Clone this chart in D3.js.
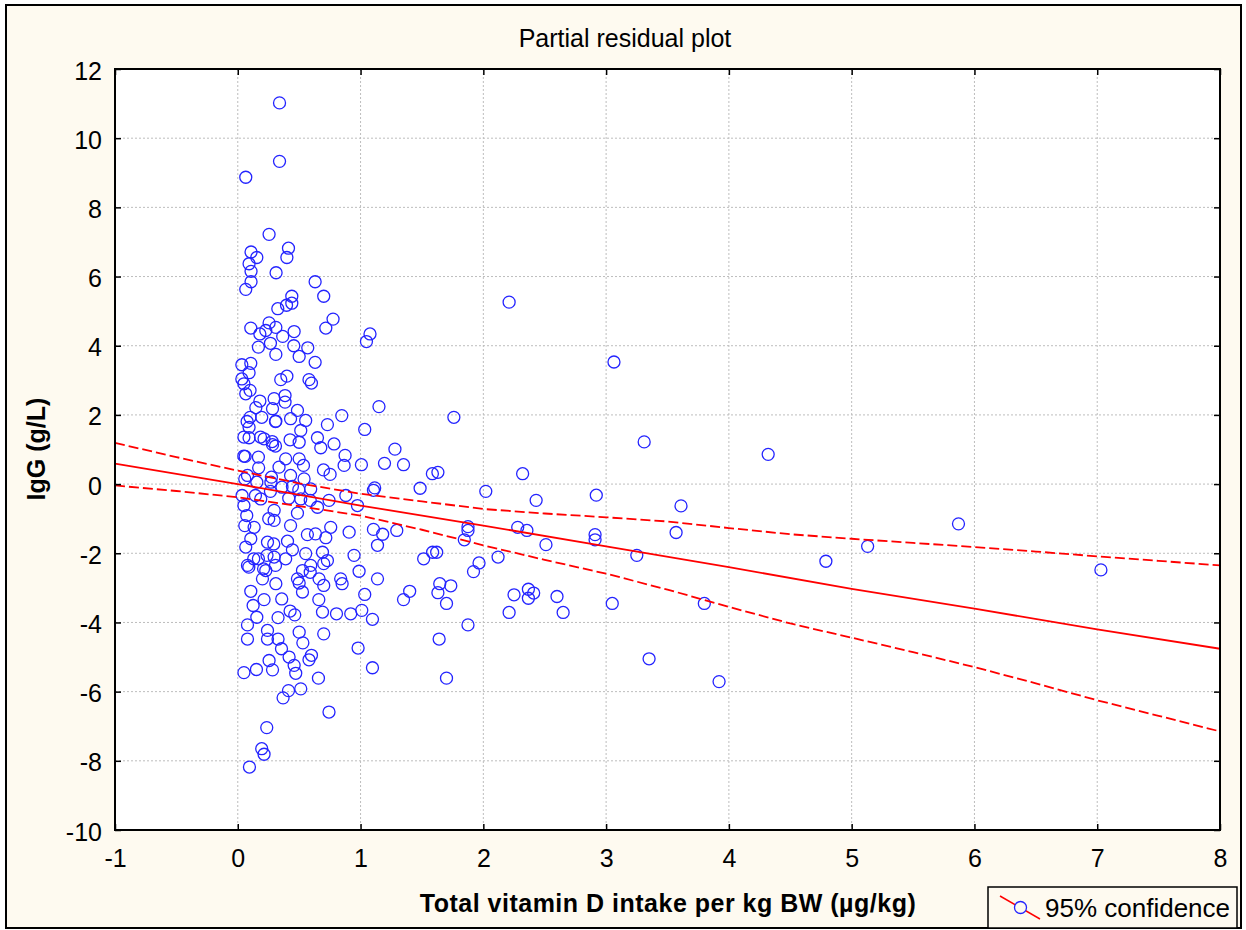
<!DOCTYPE html>
<html>
<head>
<meta charset="utf-8">
<script src="https://cdnjs.cloudflare.com/ajax/libs/d3/7.8.5/d3.min.js"></script>
<style>
  body { margin: 0; background: #ffffff; }
  text { font-family: Arial, "Liberation Sans", sans-serif; }
</style>
</head>
<body>
<script>
// Axis ticks
const xTicks = [-1, 0, 1, 2, 3, 4, 5, 6, 7, 8];
const yTicks = [-10, -8, -6, -4, -2, 0, 2, 4, 6, 8, 10, 12];

// Fitted line and 95% confidence band
const fitX = [-1, 0, 1, 2, 3, 4, 5, 6, 7, 8];
const fitY = [0.59, 0.0, -0.62, -1.2, -1.8, -2.4, -3.03, -3.6, -4.2, -4.76];

const bandX = [-1, -0.5, 0, 0.5, 1, 1.5, 2, 2.5, 3, 3.5, 4, 4.5, 5, 5.5, 6, 6.5, 7, 7.5, 8];
const upperY = [1.19, 0.78, 0.39, 0.02, -0.28, -0.5, -0.72, -0.85, -0.96, -1.08, -1.27, -1.45, -1.58, -1.7, -1.82, -1.95, -2.09, -2.22, -2.35];
const lowerY = [-0.04, -0.2, -0.38, -0.64, -0.91, -1.32, -1.77, -2.19, -2.59, -3.05, -3.55, -4.03, -4.44, -4.86, -5.29, -5.76, -6.25, -6.7, -7.15];

// Partial residuals [vitamin D per kg BW, IgG]
const residuals = [
  [0.34,11.02],[0.34,9.33],[0.065,8.87],[0.255,7.22],[0.108,6.71],[0.155,6.55],[0.092,6.37],[0.108,6.15],
  [0.413,6.82],[0.40,6.55],[0.312,6.11],[0.108,5.85],[0.065,5.63],[0.63,5.85],[0.70,5.43],[0.44,5.43],
  [0.44,5.23],[0.397,5.17],[0.326,5.07],[0.776,4.77],[0.717,4.51],[0.106,4.51],[0.255,4.66],[0.31,4.53],
  [0.459,4.41],[0.18,4.34],[0.228,4.44],[0.366,4.27],[1.077,4.34],[1.048,4.12],[0.266,4.07],[0.456,4.0],
  [0.168,3.96],[0.31,3.75],[0.50,3.69],[0.57,3.94],[0.63,3.52],[0.033,3.45],[0.106,3.49],[0.092,3.22],
  [0.033,3.04],[0.05,2.90],[0.40,3.12],[0.35,3.02],[0.58,3.02],[0.60,2.92],[0.065,2.61],[0.10,2.71],
  [0.18,2.40],[0.296,2.47],[0.385,2.56],[0.385,2.37],[0.147,2.21],[0.283,2.18],[0.486,2.13],[1.15,2.24],
  [0.10,1.93],[0.195,1.93],[0.31,1.82],[0.43,1.89],[0.553,1.84],[0.847,1.98],[0.73,1.72],[1.034,1.58],
  [0.092,1.64],[0.513,1.55],[0.092,1.34],[0.214,1.31],[0.426,1.28],[0.649,1.34],[0.50,1.21],[0.283,1.14],
  [0.784,1.16],[0.676,1.05],[0.06,0.80],[0.168,0.78],[0.39,0.73],[0.50,0.73],[0.874,0.83],[0.17,0.47],
  [0.336,0.49],[0.535,0.54],[0.698,0.41],[0.866,0.54],[1.007,0.56],[0.752,0.28],[0.43,0.25],[0.54,0.15],
  [0.27,0.055],[0.155,0.055],[1.115,-0.11],[0.445,-0.07],[0.594,-0.14],[0.88,-0.33],[0.743,-0.47],[0.975,-0.62],
  [0.513,-0.43],[0.187,-0.43],[0.05,-0.62],[0.649,-0.67],[0.296,-0.76],[0.073,-0.91],[0.486,-0.84],[0.757,-1.25],
  [0.907,-1.39],[1.105,-1.31],[0.296,-1.05],[0.43,-1.20],[0.133,-1.25],[0.717,-1.55],[0.567,-1.46],[0.106,-1.58],
  [0.242,-1.68],[0.405,-1.65],[1.138,-1.77],[0.065,-1.82],[0.445,-1.90],[0.69,-1.97],[0.553,-2.01],[0.168,-2.16],
  [0.296,-2.11],[0.39,-2.16],[0.73,-2.21],[0.947,-2.06],[0.079,-2.35],[0.594,-2.35],[0.228,-2.50],[0.527,-2.50],
  [0.988,-2.52],[0.662,-2.74],[0.201,-2.74],[0.838,-2.74],[1.138,-2.74],[0.486,-2.74],[0.31,-2.88],
  [0.106,-3.10],[0.50,-2.86],[0.70,-2.93],[0.85,-2.88],[1.034,-3.19],[0.214,-3.34],[0.358,-3.32],[0.527,-3.12],
  [0.66,-3.34],[0.125,-3.51],[0.155,-3.85],[0.426,-3.67],[0.464,-3.78],[0.69,-3.70],[0.804,-3.75],[0.92,-3.75],
  [1.01,-3.65],[1.097,-3.91],[0.079,-4.07],[0.328,-3.86],[0.242,-4.23],[0.50,-4.28],[0.70,-4.33],[0.079,-4.48],
  [0.242,-4.48],[0.328,-4.48],[0.53,-4.59],[0.356,-4.76],[0.98,-4.74],[0.60,-4.95],[0.418,-5.00],[0.58,-5.08],
  [0.255,-5.10],[0.459,-5.24],[1.097,-5.31],[0.152,-5.36],[0.283,-5.37],[0.05,-5.45],[0.472,-5.47],[0.657,-5.61],
  [0.513,-5.92],[0.413,-5.97],[0.369,-6.18],[0.743,-6.59],[0.236,-7.04],[0.195,-7.65],[0.214,-7.81],[0.095,-8.18],
  [2.21,5.26],[3.064,3.53],[1.76,1.93],[3.31,1.22],[1.28,1.01],[1.195,0.60],[1.35,0.56],[1.585,0.30],
  [1.63,0.34],[2.32,0.30],[1.485,-0.12],[1.105,-0.18],[2.02,-0.21],[2.92,-0.32],[2.43,-0.47],[3.61,-0.63],
  [1.18,-1.45],[1.295,-1.34],[1.875,-1.23],[1.875,-1.34],[1.845,-1.61],[2.28,-1.25],[2.355,-1.34],[2.91,-1.46],
  [2.91,-1.61],[3.57,-1.40],[2.51,-1.75],[1.587,-1.97],[1.62,-1.97],[1.514,-2.16],[2.12,-2.11],[3.25,-2.06],
  [1.965,-2.28],[1.92,-2.53],[1.40,-3.10],[1.35,-3.34],[1.645,-2.88],[1.735,-2.94],[1.63,-3.14],[1.70,-3.45],
  [2.25,-3.20],[2.367,-3.04],[2.41,-3.15],[2.367,-3.30],[2.60,-3.25],[2.65,-3.71],[2.21,-3.71],[3.05,-3.45],
  [3.80,-3.45],[1.875,-4.07],[1.64,-4.48],[1.70,-5.61],[3.35,-5.05],[3.92,-5.71],
  [4.32,0.86],[4.79,-2.23],[5.13,-1.80],[5.87,-1.15],[7.03,-2.48],
  [0.076,1.81],[0.307,1.81],[0.185,1.36],[0.28,1.23],[0.307,1.10],[0.049,0.81],[0.057,0.15],[0.274,0.20],
  [0.035,-0.33],[0.144,-0.33],[0.266,-0.21],[0.36,-0.09],[0.497,-0.16],[0.415,-0.41],[0.59,-0.47],[0.057,-1.20],
  [0.252,-1.00],[0.633,-1.44],[0.293,-1.73],[0.13,-2.16],[0.238,-2.06],[0.70,-2.30],[0.09,-2.40],[0.21,-2.45],
  [0.307,-2.35],[0.59,-2.55],[0.05,1.36],[0.079,0.25]
];

const width = 1246, height = 930;
const plotLeft = 115, plotRight = 1220, plotTop = 69, plotBottom = 830;

const svg = d3.select("body").append("svg")
    .attr("width", width)
    .attr("height", height);

// Outer cream panel with black frame
svg.append("rect")
    .attr("x", 6).attr("y", 5)
    .attr("width", 1235).attr("height", 923)
    .attr("fill", "#fefaf0")
    .attr("stroke", "#000")
    .attr("stroke-width", 2);

const xScale = d3.scaleLinear().domain([-1, 8]).range([plotLeft, plotRight]);
const yScale = d3.scaleLinear().domain([-10, 12]).range([plotBottom, plotTop]);

// Plot area
svg.append("rect")
    .attr("x", plotLeft).attr("y", plotTop)
    .attr("width", plotRight - plotLeft).attr("height", plotBottom - plotTop)
    .attr("fill", "#fff");

// Dotted grid
svg.append("g").selectAll("line")
    .data(xTicks.slice(1, -1))
    .enter().append("line")
    .attr("x1", d => xScale(d)).attr("x2", d => xScale(d))
    .attr("y1", plotTop).attr("y2", plotBottom)
    .attr("stroke", "#bdbdbd").attr("stroke-dasharray", "2,2");

svg.append("g").selectAll("line")
    .data(yTicks.slice(1, -1))
    .enter().append("line")
    .attr("x1", plotLeft).attr("x2", plotRight)
    .attr("y1", d => yScale(d)).attr("y2", d => yScale(d))
    .attr("stroke", "#bdbdbd").attr("stroke-dasharray", "2,2");

// Residual points
svg.append("g").selectAll("circle")
    .data(residuals)
    .enter().append("circle")
    .attr("cx", d => xScale(d[0]))
    .attr("cy", d => yScale(d[1]))
    .attr("r", 6)
    .attr("fill", "none")
    .attr("stroke", "#2424ff")
    .attr("stroke-width", 1.3);

// Fit line and confidence band
const line = d3.line().x(d => xScale(d[0])).y(d => yScale(d[1]));

svg.append("path")
    .datum(fitX.map((x, i) => [x, fitY[i]]))
    .attr("d", line)
    .attr("fill", "none").attr("stroke", "#ff0000").attr("stroke-width", 1.8);

[upperY, lowerY].forEach(band => {
    svg.append("path")
        .datum(bandX.map((x, i) => [x, band[i]]))
        .attr("d", line)
        .attr("fill", "none").attr("stroke", "#ff0000")
        .attr("stroke-width", 1.8)
        .attr("stroke-dasharray", "10,4");
});

// Axes with inward ticks on all four sides (plain hyphen for negatives)
const fontSize = "25px";
const plainFormat = d => String(d);

const xAxis = svg.append("g")
    .attr("transform", `translate(0,${plotBottom})`)
    .call(d3.axisBottom(xScale).tickValues(xTicks).tickFormat(plainFormat)
        .tickSizeInner(-6).tickSizeOuter(0).tickPadding(19));
xAxis.selectAll("text").style("font-size", fontSize).attr("fill", "#000");

const yAxis = svg.append("g")
    .attr("transform", `translate(${plotLeft},0)`)
    .call(d3.axisLeft(yScale).tickValues(yTicks).tickFormat(plainFormat)
        .tickSizeInner(-6).tickSizeOuter(0).tickPadding(13));
yAxis.selectAll("text").style("font-size", fontSize).attr("fill", "#000").attr("dy", "0.4em");

svg.append("g")
    .attr("transform", `translate(0,${plotTop})`)
    .call(d3.axisTop(xScale).tickValues(xTicks).tickSizeInner(-6).tickSizeOuter(0).tickFormat(""));

svg.append("g")
    .attr("transform", `translate(${plotRight},0)`)
    .call(d3.axisRight(yScale).tickValues(yTicks).tickSizeInner(-6).tickSizeOuter(0).tickFormat(""));

svg.selectAll(".domain").remove();
svg.selectAll(".tick line").attr("stroke", "#000").attr("stroke-width", 1.5);

// Plot frame
svg.append("rect")
    .attr("x", plotLeft).attr("y", plotTop)
    .attr("width", plotRight - plotLeft).attr("height", plotBottom - plotTop)
    .attr("fill", "none")
    .attr("stroke", "#000")
    .attr("stroke-width", 2);

// Title
svg.append("text")
    .attr("x", 625).attr("y", 47)
    .attr("text-anchor", "middle")
    .style("font-size", "25px")
    .text("Partial residual plot");

// Axis labels
svg.append("text")
    .attr("x", 668).attr("y", 912)
    .attr("text-anchor", "middle")
    .style("font-size", "25px").style("font-weight", "bold")
    .style("letter-spacing", "0.5px")
    .text("Total vitamin D intake per kg BW (µg/kg)");

svg.append("text")
    .attr("transform", "rotate(-90)")
    .attr("x", -449).attr("y", 45)
    .attr("text-anchor", "middle")
    .style("font-size", "25px").style("font-weight", "bold")
    .text("IgG (g/L)");

// Legend
const legend = svg.append("g");
legend.append("rect")
    .attr("x", 988).attr("y", 887)
    .attr("width", 249).attr("height", 41)
    .attr("fill", "#fefaf0").attr("stroke", "#000").attr("stroke-width", 1.5);
legend.append("line")
    .attr("x1", 1000).attr("y1", 896).attr("x2", 1040).attr("y2", 919)
    .attr("stroke", "#ff0000").attr("stroke-width", 1.5);
legend.append("circle")
    .attr("cx", 1020.5).attr("cy", 907.5).attr("r", 6)
    .attr("fill", "#fefaf0").attr("stroke", "#2424ff").attr("stroke-width", 1.3);
legend.append("text")
    .attr("x", 1045).attr("y", 917)
    .style("font-size", "26px")
    .text("95% confidence");
</script>
</body>
</html>
